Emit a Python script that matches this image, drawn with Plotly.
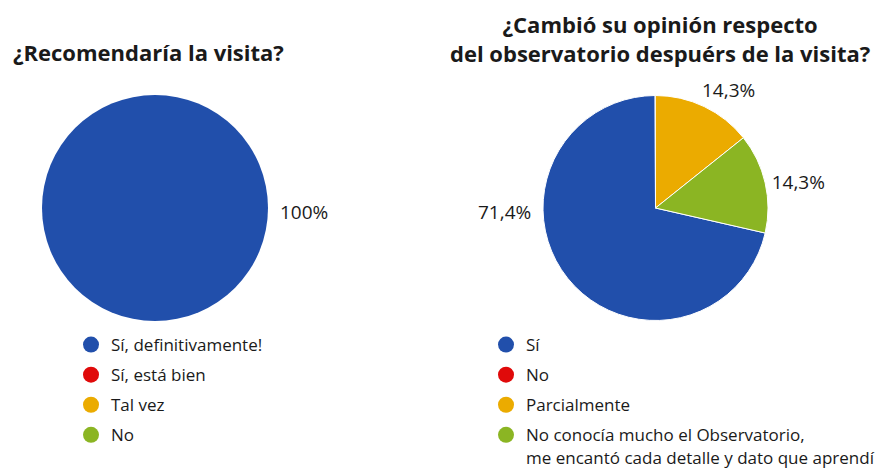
import plotly.graph_objects as go

# Data
left_title = "¿Recomendaría la visita?"
left_labels = ["Sí, definitivamente!", "Sí, está bien", "Tal vez", "No"]
left_values = [100, 0, 0, 0]

right_title = "¿Cambió su opinión respecto<br>del observatorio despuérs de la visita?"
right_labels = ["Sí", "No", "Parcialmente",
                "No conocía mucho el Observatorio,<br>me encantó cada detalle y dato que aprendí"]
right_values = [71.4, 0, 14.3, 14.3]

colors = ["#214fab", "#e00a0a", "#ebab00", "#8bb523"]
TXT = "#1a1a1a"
FONT = "Open Sans"

W, H = 889, 471
OFF = 8  # page body margin offset


def fx(px):
    return (px - OFF) / W


def fy(py):
    return 1 - (py - OFF) / H


def pct(v, vals, nd=1):
    return f"{v / sum(vals) * 100:.{nd}f}%".replace(".", ",")


fig = go.Figure()

fig.add_trace(go.Pie(
    labels=left_labels, values=left_values, sort=False,
    direction="clockwise", rotation=-90,
    marker=dict(colors=colors, line=dict(color="white", width=0)),
    textinfo="none",
    domain=dict(x=[fx(42), fx(268)], y=[fy(321), fy(95)]),
    showlegend=False, hoverinfo="label+percent",
))

fig.add_trace(go.Pie(
    labels=right_labels, values=right_values, sort=False,
    direction="clockwise", rotation=102.86,
    marker=dict(colors=colors, line=dict(color="white", width=1)),
    texttemplate=["", "", "", "%{percent:.1%}"],
    textposition="outside", textfont=dict(size=19, color=TXT, family=FONT),
    domain=dict(x=[fx(543), fx(768)], y=[fy(321), fy(95)]),
    showlegend=False, hoverinfo="label+percent",
))

# Legend entries (circle markers)
for i, (lab, col) in enumerate(zip(left_labels, colors)):
    fig.add_trace(go.Scatter(x=[None], y=[None], mode="markers", name=lab,
                             marker=dict(color=col, size=17, symbol="circle"),
                             legend="legend", legendgroup=f"l{i}", showlegend=True))
for i, (lab, col) in enumerate(zip(right_labels, colors)):
    fig.add_trace(go.Scatter(x=[None], y=[None], mode="markers", name=lab,
                             marker=dict(color=col, size=17, symbol="circle"),
                             legend="legend2", legendgroup=f"r{i}", showlegend=True))

leg_common = dict(font=dict(size=17, color=TXT, family=FONT), bgcolor="rgba(0,0,0,0)",
                  xanchor="left", yanchor="top", valign="top", itemclick=False,
                  itemdoubleclick=False, tracegroupgap=5)

title_font = dict(size=22, color=TXT, family=FONT, weight="bold")
label_font = dict(size=19, color=TXT, family=FONT)

fig.update_layout(
    width=W, height=H,
    margin=dict(l=0, r=0, t=0, b=0),
    paper_bgcolor="white", plot_bgcolor="white",
    separators=",.",
    font=dict(family=FONT, color=TXT),
    xaxis=dict(visible=False), yaxis=dict(visible=False),
    legend=dict(x=fx(71), y=fy(327), **leg_common),
    legend2=dict(x=fx(486), y=fy(327), **leg_common),
    annotations=[
        dict(text=left_title, x=fx(148), y=fy(52), xref="paper", yref="paper",
             xanchor="center", yanchor="middle", showarrow=False, font=title_font),
        dict(text=right_title, x=fx(660), y=1, xref="paper", yref="paper",
             xanchor="center", yanchor="top", showarrow=False, font=title_font,
             borderpad=0),
        # outside labels
        dict(text=pct(left_values[0], left_values, 0), x=fx(304), y=fy(212),
             xref="paper", yref="paper", xanchor="center", yanchor="middle",
             showarrow=False, font=label_font),
        dict(text=pct(right_values[0], right_values), x=fx(504), y=fy(212),
             xref="paper", yref="paper", xanchor="center", yanchor="middle",
             showarrow=False, font=label_font),
        dict(text=pct(right_values[2], right_values), x=fx(728), y=fy(90),
             xref="paper", yref="paper", xanchor="center", yanchor="middle",
             showarrow=False, font=label_font),
    ],
)

fig.write_html("out.html")
